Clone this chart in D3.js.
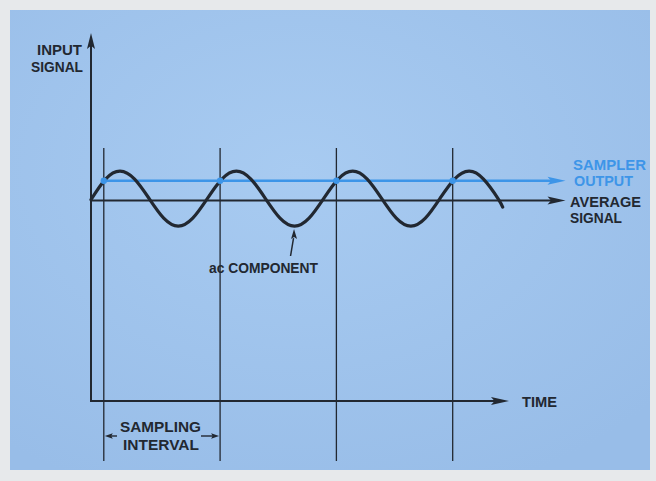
<!DOCTYPE html>
<html>
<head>
<meta charset="utf-8">
<script src="https://cdn.jsdelivr.net/npm/d3@7"></script>
<style>
  html, body { margin: 0; padding: 0; background: #e6e8ea; }
  svg { display: block; }
  text { font-family: "Liberation Sans", Arial, sans-serif; font-weight: bold; }
</style>
</head>
<body>
<svg id="chart" width="656" height="481"></svg>
<script>
// ---------------- DATA ----------------
// time in units of one sampling interval, origin at the vertical axis
const waveTime  = [0, 0.125, 0.25, 0.375, 0.5, 0.625, 0.75, 0.875,
                   1, 1.125, 1.25, 1.375, 1.5, 1.625, 1.75, 1.875,
                   2, 2.125, 2.25, 2.375, 2.5, 2.625, 2.75, 2.875,
                   3, 3.125, 3.25, 3.375, 3.5, 3.54];
// ac component + average (average = 0)
const waveValue = [0.03, 0.78, 1.07, 0.78, 0.07, -0.64, -0.93, -0.64,
                   0.07, 0.78, 1.07, 0.78, 0.07, -0.64, -0.93, -0.64,
                   0.07, 0.78, 1.07, 0.78, 0.07, -0.64, -0.93, -0.64,
                   0.07, 0.78, 1.07, 0.78, 0.07, -0.24];
const sampleTimes = [0.11, 1.11, 2.11, 3.11];
const samplerLevel = 0.72;
const averageLevel = 0;
const samplerRange = [0.11, 4.08];   // start / arrow end of sampler output
const averageRange = [0, 4.08];      // start / arrow end of average signal
const timeAxisEnd = 3.594;
const inputAxisTop = 6.09;
const timeAxisLevel = -7.29;

const labels = {
  yAxis: ["INPUT", "SIGNAL"],
  sampler: ["SAMPLER", "OUTPUT"],
  average: ["AVERAGE", "SIGNAL"],
  time: "TIME",
  interval: ["SAMPLING", "INTERVAL"],
  ac: "ac COMPONENT"
};

// ---------------- LAYOUT ----------------
const svg = d3.select("#chart");
const W = 656, H = 481;
const ink = "#222831", blue = "#3d95e8";

const x = d3.scaleLinear().domain([0, 1]).range([91, 91 + 116.3]);
const y = d3.scaleLinear().domain([timeAxisLevel, inputAxisTop]).range([401, 33]);

// background panel
const defs = svg.append("defs");
const grad = defs.append("radialGradient").attr("id", "bg")
  .attr("cx", "45%").attr("cy", "35%").attr("r", "75%");
grad.append("stop").attr("offset", "0%").attr("stop-color", "#a8cbf1");
grad.append("stop").attr("offset", "100%").attr("stop-color", "#98bde8");
svg.append("rect").attr("width", W).attr("height", H).attr("fill", "#e7e9eb");
svg.append("rect").attr("x", 10).attr("y", 10).attr("width", 640).attr("height", 460)
  .attr("fill", "url(#bg)");

function arrowHead(tipX, tipY, dir, len, half, color) {
  let p;
  if (dir === "right") p = [[tipX, tipY], [tipX - len, tipY - half], [tipX - len * 0.8, tipY], [tipX - len, tipY + half]];
  else if (dir === "left") p = [[tipX, tipY], [tipX + len, tipY - half], [tipX + len * 0.8, tipY], [tipX + len, tipY + half]];
  else p = [[tipX, tipY], [tipX - half, tipY + len], [tipX, tipY + len * 0.8], [tipX + half, tipY + len]];
  svg.append("path").attr("d", "M" + p.map(d => d.join(",")).join("L") + "Z").attr("fill", color);
}

// sampling instants (vertical lines)
svg.append("g").selectAll("line").data(sampleTimes).join("line")
  .attr("x1", d => x(d)).attr("x2", d => x(d))
  .attr("y1", 148).attr("y2", 461)
  .attr("stroke", ink).attr("stroke-width", 1.3);

// axes
const x0 = x(0), yT = y(timeAxisLevel);
svg.append("line").attr("x1", x0).attr("x2", x0).attr("y1", y(inputAxisTop) + 10).attr("y2", yT + 1)
  .attr("stroke", ink).attr("stroke-width", 2);
arrowHead(x0, y(inputAxisTop), "up", 16, 4, ink);
svg.append("line").attr("x1", x0 - 1).attr("x2", x(timeAxisEnd) - 10).attr("y1", yT).attr("y2", yT)
  .attr("stroke", ink).attr("stroke-width", 2);
arrowHead(x(timeAxisEnd), yT, "right", 18, 4, ink);

// average signal
svg.append("line").attr("x1", x(averageRange[0])).attr("x2", x(averageRange[1]) - 10)
  .attr("y1", y(averageLevel)).attr("y2", y(averageLevel))
  .attr("stroke", ink).attr("stroke-width", 2);
arrowHead(x(averageRange[1]), y(averageLevel), "right", 18, 4, ink);

// sampler output
svg.append("line").attr("x1", x(samplerRange[0]) - 2).attr("x2", x(samplerRange[1]) - 10)
  .attr("y1", y(samplerLevel)).attr("y2", y(samplerLevel))
  .attr("stroke", blue).attr("stroke-width", 2.6);
arrowHead(x(samplerRange[1]), y(samplerLevel), "right", 18, 4, blue);

// wave
const wave = waveTime.map((t, i) => [t, waveValue[i]]);
svg.append("path").datum(wave)
  .attr("d", d3.line().x(d => x(d[0])).y(d => y(d[1])).curve(d3.curveNatural))
  .attr("fill", "none").attr("stroke", ink).attr("stroke-width", 3.2)
  .attr("stroke-linecap", "round");

// sample dots
svg.append("g").selectAll("circle").data(sampleTimes).join("circle")
  .attr("cx", d => x(d)).attr("cy", y(samplerLevel)).attr("r", 3.2)
  .attr("fill", blue);

// ---------------- TEXT ----------------
function label(str, px, base, len, color, anchor) {
  svg.append("text").attr("x", px).attr("y", base)
    .attr("font-size", 15.5).attr("fill", color)
    .attr("text-anchor", anchor || "start")
    .attr("textLength", len).attr("lengthAdjust", "spacingAndGlyphs")
    .text(str);
}
label(labels.yAxis[0], 37, 55, 45, ink);
label(labels.yAxis[1], 31, 72, 52, ink);
label(labels.sampler[0], 573, 170, 73, blue);
label(labels.sampler[1], 574, 186, 59, blue);
label(labels.average[0], 570, 207, 71, ink);
label(labels.average[1], 570, 223, 52, ink);
label(labels.time, 522, 407, 35, ink);
label(labels.interval[0], 120, 432, 81, ink);
label(labels.interval[1], 123, 450, 76, ink);
label(labels.ac, 209, 273, 109, ink);

// ac component pointer
const troughX = x(1.75), troughY = y(-0.93);
svg.append("line").attr("x1", troughX - 4).attr("y1", 256).attr("x2", troughX - 1).attr("y2", troughY + 12)
  .attr("stroke", ink).attr("stroke-width", 1.5);
arrowHead(troughX - 0.5, troughY + 3, "up", 10, 3, ink);

// sampling interval dimension arrows
const yI = 436;
svg.append("line").attr("x1", x(sampleTimes[0]) + 6).attr("x2", 117).attr("y1", yI).attr("y2", yI)
  .attr("stroke", ink).attr("stroke-width", 1.4);
arrowHead(x(sampleTimes[0]) + 1, yI, "left", 8, 2.8, ink);
svg.append("line").attr("x1", 201).attr("x2", x(sampleTimes[1]) - 6).attr("y1", yI).attr("y2", yI)
  .attr("stroke", ink).attr("stroke-width", 1.4);
arrowHead(x(sampleTimes[1]) - 1, yI, "right", 8, 2.8, ink);
</script>
</body>
</html>
